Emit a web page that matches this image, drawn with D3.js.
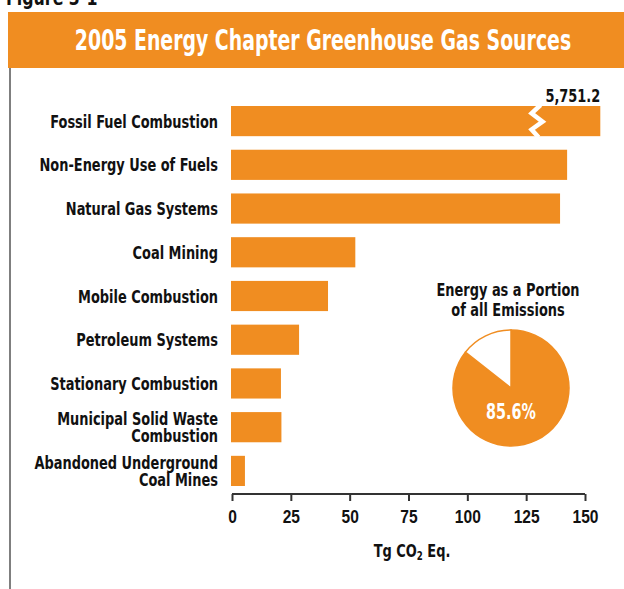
<!DOCTYPE html>
<html>
<head>
<meta charset="utf-8">
<script src="https://cdn.jsdelivr.net/npm/d3@7"></script>
<style>
  body { margin: 0; background: #fff; }
  svg { display: block; font-family: "DejaVu Sans Condensed", "DejaVu Sans", sans-serif; font-weight: bold; }
</style>
</head>
<body>
<svg id="chart"></svg>
<script>
// data (Tg CO2 Eq.)
let categories = ['Fossil Fuel Combustion', 'Non-Energy Use of Fuels', 'Natural Gas Systems', 'Coal Mining',
  'Mobile Combustion', 'Petroleum Systems', 'Stationary Combustion', 'Municipal Solid Waste\nCombustion',
  'Abandoned Underground\nCoal Mines'];
let values = [5751.2, 142.4, 139.4, 52.4, 40.8, 28.5, 20.8, 21.0, 5.5];
let xTicks = [0, 25, 50, 75, 100, 125, 150];
let pieShares = [85.6, 14.4]; // energy, everything else

let width = 624;
let height = 589;
let orange = '#f08d21';
let ink = '#111';
let breakAt = 156.5; // where the broken bar is cut off on the scale

let svg = d3.select('#chart').attr('width', width).attr('height', height);

// the original uses a condensed face, so squeeze the text sideways
function label(x, y, str, size, anchor, sx, fill) {
  let t = svg.append('text')
    .attr('transform', `translate(${x}, ${y}) scale(${sx}, 1)`)
    .attr('text-anchor', anchor)
    .attr('fill', fill || ink)
    .style('font-size', size + 'px');
  // multi-line labels go in one text element
  str.split('\n').forEach((l, j) => {
    t.append('tspan').attr('x', 0).attr('dy', j === 0 ? 0 : 17.5).text(l);
  });
  return t;
}

// figure number, mostly cropped off the top
label(6, 5, 'Figure 3-1', 22, 'start', 0.8);

// header band
svg.append('rect').attr('x', 8).attr('y', 12).attr('width', width - 8).attr('height', 56).attr('fill', orange);
label(323, 50, '2005 Energy Chapter Greenhouse Gas Sources', 28, 'middle', 0.75, '#fff');

// left frame line
svg.append('line').attr('x1', 10).attr('x2', 10).attr('y1', 68).attr('y2', height).attr('stroke', '#555').attr('stroke-width', 1.5);

// scales
let xScale = d3.scaleLinear().domain([0, 150]).range([232, 585]);
let yScale = d3.scaleBand().domain(categories).range([106, 486]).paddingInner(0.31);

// bars
svg.selectAll('.bar').data(categories).enter().append('rect').classed('bar', true)
  .attr('x', xScale(0) - 1)
  .attr('y', (d) => yScale(d))
  .attr('height', yScale.bandwidth())
  .attr('width', (d, i) => xScale(Math.min(values[i], breakAt)) - xScale(0) + 1)
  .attr('fill', orange);

// break mark on the fossil fuel bar
let b = yScale(categories[0]);
let bh = yScale.bandwidth();
let bx = xScale(129);
svg.append('path')
  .attr('d', d3.line()([[bx + 5, b - 1], [bx - 4, b + bh * 0.24], [bx + 7, b + bh * 0.52], [bx - 4, b + bh * 0.78], [bx + 3, b + bh + 1]]))
  .attr('fill', 'none').attr('stroke', '#fff').attr('stroke-width', 4.5);

label(xScale(breakAt), b - 4, d3.format(',.1f')(values[0]), 18, 'end', 0.8);

// category labels
categories.forEach((c) => {
  let n = c.split('\n').length;
  let mid = yScale(c) + yScale.bandwidth() / 2;
  label(218, mid - (n - 1) / 2 * 17.5 + 6.5, c, 18, 'end', 0.8);
});

// x axis
let xAxis = d3.axisBottom(xScale).tickValues(xTicks).tickSize(7).tickSizeOuter(0).tickPadding(9);
let gx = svg.append('g').attr('transform', 'translate(0, 494)').call(xAxis);
gx.select('.domain').attr('stroke', '#333').attr('stroke-width', 2).attr('d', 'M232,0H585');
gx.selectAll('.tick line').attr('stroke', '#333').attr('stroke-width', 2);
gx.selectAll('.tick text').attr('fill', ink).attr('transform', 'scale(0.82, 1)')
  .style('font-size', '19px').style('font-family', 'inherit');

let xt = svg.append('text').attr('transform', 'translate(412, 557) scale(0.8, 1)').attr('text-anchor', 'middle')
  .style('font-size', '18px').attr('fill', ink);
xt.append('tspan').text('Tg CO');
xt.append('tspan').attr('dy', 3).style('font-size', '12px').text('2');
xt.append('tspan').attr('dy', -3).text(' Eq.');

// pie of energy share
let pcx = 511, pcy = 388, r = 58;
label(508, 296, 'Energy as a Portion\nof all Emissions', 18, 'middle', 0.8).selectAll('tspan').attr('dy', (d, j) => j === 0 ? 0 : 20);

let pie = d3.pie().sort(null)(pieShares);
let arc = d3.arc().innerRadius(0).outerRadius(r);
let gp = svg.append('g').attr('transform', `translate(${pcx}, ${pcy})`);
gp.selectAll('path').data(pie).enter().append('path')
  .attr('d', arc)
  .attr('fill', (d, i) => i === 0 ? orange : '#fff')
  .attr('stroke', orange).attr('stroke-width', 1.5);
label(pcx, pcy + 31, pieShares[0] + '%', 21, 'middle', 0.76, '#fff');
</script>
</body>
</html>
